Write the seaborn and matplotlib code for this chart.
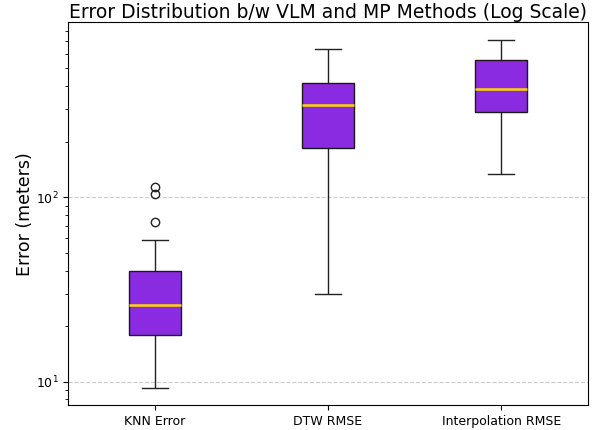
import numpy as np
import pandas as pd
import matplotlib
matplotlib.use("Agg")
import matplotlib.pyplot as plt
import seaborn as sns

categories = ["KNN Error", "DTW RMSE", "Interpolation RMSE"]

# values chosen so the box statistics match the reference (meters)
knn_error = [9.27, 18.0, 18.0, 18.0, 18.0, 25.9, 25.9, 25.9, 25.9,
             39.6, 39.6, 39.6, 39.6, 58.4, 73.1, 103.8, 113.0]
dtw_rmse = [29.7, 184.6, 316.0, 417.0, 637.0]
interp_rmse = [133.0, 290.0, 386.0, 556.0, 713.0]

df = pd.DataFrame({
    "Method": [categories[0]] * len(knn_error) + [categories[1]] * len(dtw_rmse)
              + [categories[2]] * len(interp_rmse),
    "Error": knn_error + dtw_rmse + interp_rmse,
})

fig, ax = plt.subplots(figsize=(6.03, 4.30), dpi=100)
sns.boxplot(data=df, x="Method", y="Error", order=categories, ax=ax,
            color="#8A2BE2", saturation=1, width=0.3, linewidth=1,
            linecolor="#222222",
            boxprops=dict(edgecolor="#1a1a1a"),
            medianprops=dict(color="#FFD700", linewidth=1.8),
            flierprops=dict(marker="o", markerfacecolor="none",
                            markeredgecolor="#222222", markersize=6))
ax.set_yscale("log")
ax.grid(True, axis="y", which="major", linestyle="--", color="#cccccc", linewidth=0.8)
ax.set_axisbelow(True)
ax.set_title("Error Distribution b/w VLM and MP Methods (Log Scale)", fontsize=13.5, pad=3)
ax.set_ylabel("Error (meters)", fontsize=12.5, labelpad=1)
ax.set_xlabel("")
ax.tick_params(axis="both", labelsize=9)
fig.subplots_adjust(left=0.113, right=0.975, top=0.948, bottom=0.058)
fig.savefig("out.png", dpi=100)
